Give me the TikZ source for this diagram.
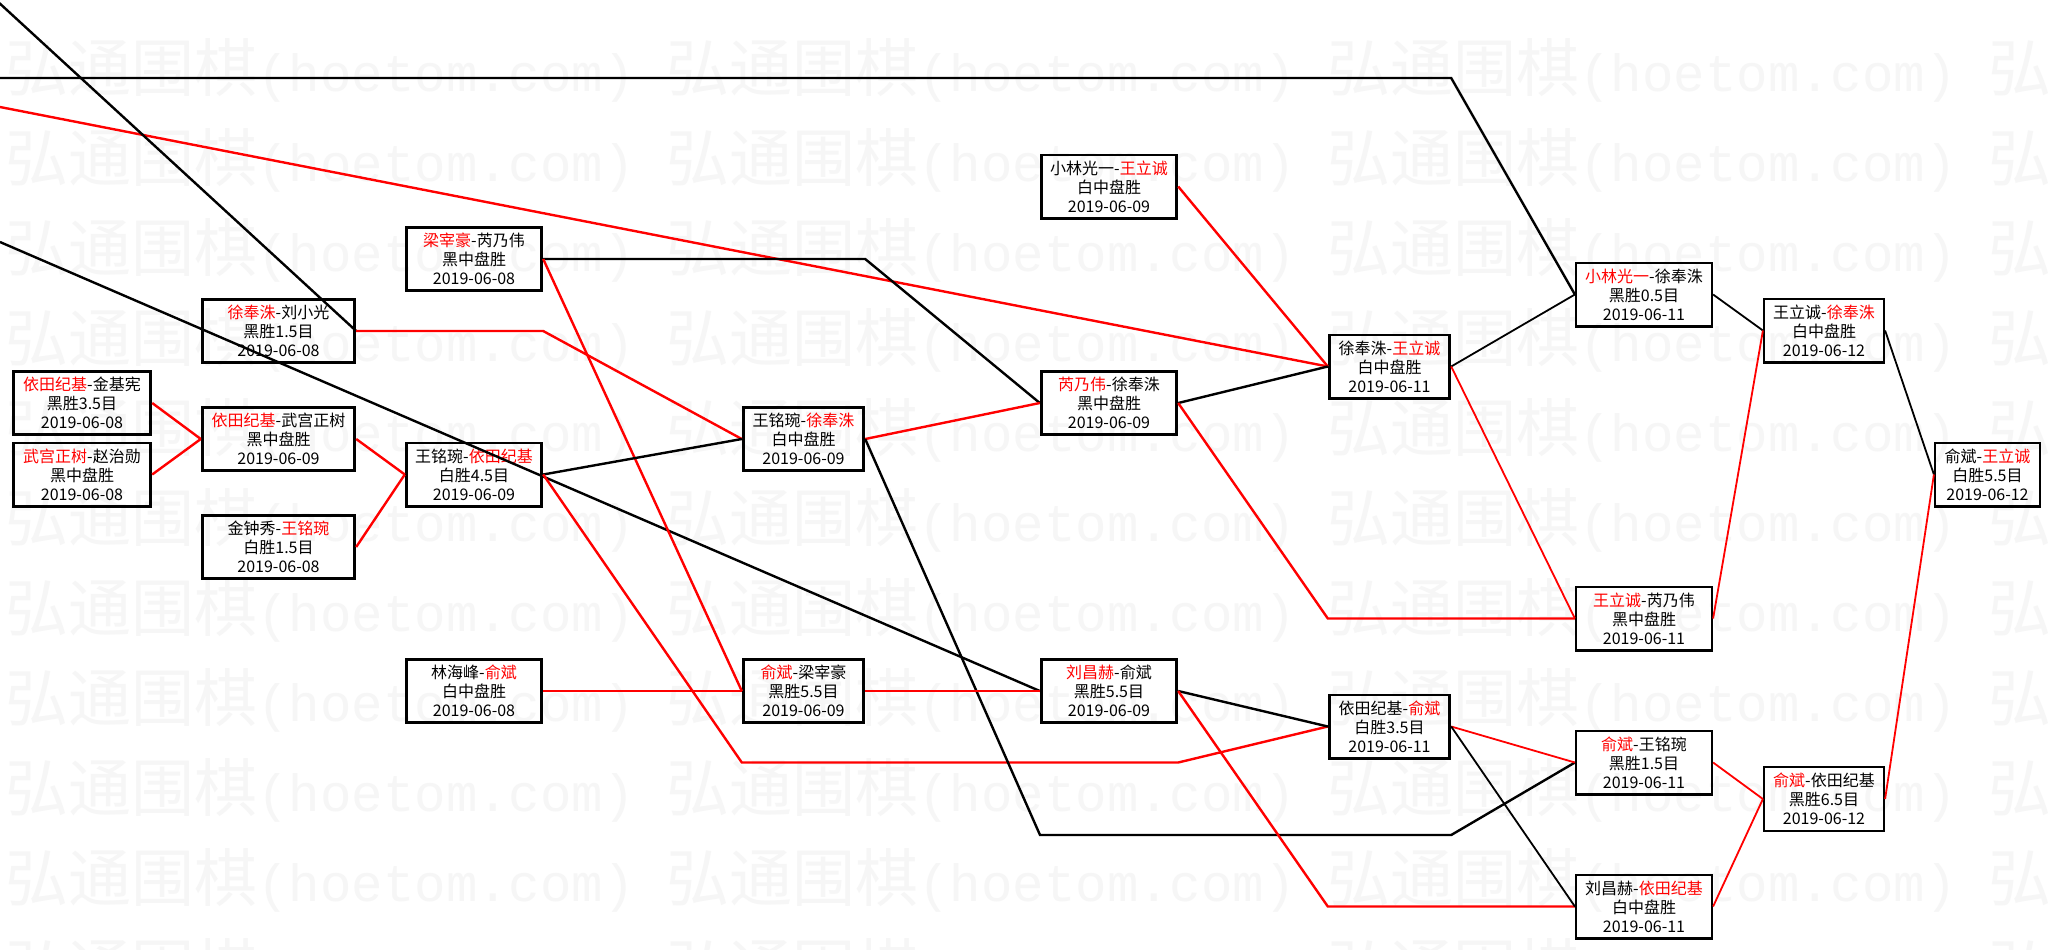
\documentclass[tikz,border=0pt]{standalone}
\usepackage{fontspec}
\setmainfont{Noto Sans CJK SC}
\newfontfamily\wmlat{Liberation Mono}
\usepackage{xcolor}
\definecolor{wred}{RGB}{255,0,0}
\newcommand{\win}[1]{\textcolor{wred}{#1}}
\newcommand{\wmunit}{\makebox[330.5pt][l]{\fontsize{31.5}{31.5}\selectfont 弘通围棋{\wmlat\fontsize{26.2}{26.2}\selectfont(hoetom.com)}}}
\newcommand{\wmrow}{\wmunit\wmunit\wmunit\wmunit}

\begin{document}
\begin{tikzpicture}[x=0.5pt, y=-0.5pt, every node/.style={font=\fontsize{8}{9.5}\selectfont}]
  % 样式
  \tikzstyle{game}=[rectangle, draw=black, line width=1.4pt, inner sep=0pt, minimum height=31.6pt, align=center]
  \tikzstyle{late}=[game, line width=1.1pt, minimum height=31.9pt]
  \tikzstyle{bk}=[draw=black, line width=1.2pt]
  \tikzstyle{rd}=[draw=wred, line width=1.2pt]
  \tikzstyle{bkt}=[draw=black, line width=0.9pt]
  \tikzstyle{rdt}=[draw=wred, line width=0.9pt]
  \tikzstyle{wm}=[anchor=base west, inner sep=0pt, text=black!3.5]

  \path[use as bounding box, fill=white] (0,0) rectangle (2052,949);

  % 水印
  \foreach \r in {0,...,10}
    \node[wm] (wm\r) at (5,91+90*\r) {\wmrow};

  % 对局
  \node (yitian_jin) [game, minimum width=68.8pt] at (82,403) {\win{依田纪基}-金基宪\\黑胜3.5目\\2019-06-08};
  \node (wugong_zhao) [game, minimum width=68.8pt] at (82,474.5) {\win{武宫正树}-赵治勋\\黑中盘胜\\2019-06-08};
  \node (xu_liu) [game, minimum width=76.3pt] at (278.5,331) {\win{徐奉洙}-刘小光\\黑胜1.5目\\2019-06-08};
  \node (yitian_wugong) [game, minimum width=76.3pt] at (278.5,439) {\win{依田纪基}-武宫正树\\黑中盘胜\\2019-06-09};
  \node (jin_wangm) [game, minimum width=76.3pt] at (278.5,547) {金钟秀-\win{王铭琬}\\白胜1.5目\\2019-06-08};
  \node (liang_rui) [game, minimum width=67.8pt] at (474,259) {\win{梁宰豪}-芮乃伟\\黑中盘胜\\2019-06-08};
  \node (wangm_yitian) [game, minimum width=67.8pt] at (474,474.5) {王铭琬-\win{依田纪基}\\白胜4.5目\\2019-06-09};
  \node (lin_yu) [game, minimum width=67.8pt] at (474,691) {林海峰-\win{俞斌}\\白中盘胜\\2019-06-08};
  \node (wangm_xu) [game, minimum width=60.3pt] at (803.5,439) {王铭琬-\win{徐奉洙}\\白中盘胜\\2019-06-09};
  \node (yu_liang) [game, minimum width=60.3pt] at (803.5,691) {\win{俞斌}-梁宰豪\\黑胜5.5目\\2019-06-09};
  \node (kobayashi_wangl) [game, minimum width=67.8pt] at (1109,186.5) {小林光一-\win{王立诚}\\白中盘胜\\2019-06-09};
  \node (rui_xu) [game, minimum width=67.8pt] at (1109,403) {\win{芮乃伟}-徐奉洙\\黑中盘胜\\2019-06-09};
  \node (liu_yu) [game, minimum width=67.8pt] at (1109,691) {\win{刘昌赫}-俞斌\\黑胜5.5目\\2019-06-09};
  \node (xu_wangl) [game, minimum width=60.3pt] at (1389.5,366.5) {徐奉洙-\win{王立诚}\\白中盘胜\\2019-06-11};
  \node (yitian_yu) [game, minimum width=60.3pt] at (1389.5,726.5) {依田纪基-\win{俞斌}\\白胜3.5目\\2019-06-11};
  \node (kobayashi_xu) [late, minimum width=68pt] at (1644,294.5) {\win{小林光一}-徐奉洙\\黑胜0.5目\\2019-06-11};
  \node (wangl_rui) [late, minimum width=68pt] at (1644,618.5) {\win{王立诚}-芮乃伟\\黑中盘胜\\2019-06-11};
  \node (yu_wangm) [late, minimum width=68pt] at (1644,762.5) {\win{俞斌}-王铭琬\\黑胜1.5目\\2019-06-11};
  \node (liu_yitian) [late, minimum width=68pt] at (1644,906.5) {刘昌赫-\win{依田纪基}\\白中盘胜\\2019-06-11};
  \node (wangl_xu) [late, minimum width=60pt] at (1824,330.5) {王立诚-\win{徐奉洙}\\白中盘胜\\2019-06-12};
  \node (yu_yitian) [late, minimum width=60pt] at (1824,799) {\win{俞斌}-依田纪基\\黑胜6.5目\\2019-06-12};
  \node (yu_wangl) [late, minimum width=52.5pt] at (1987.5,474.5) {俞斌-\win{王立诚}\\白胜5.5目\\2019-06-12};

  % 图外伸入的线
  \coordinate (top_in) at (0,78);
  \coordinate (red_in) at (0,107);
  \coordinate (mid_in) at (0,242);
  \coordinate (corner_in) at (-4,0);
  \coordinate (low_run) at (1040,835);

  \draw[bk] (top_in) -- (top_in -| xu_wangl.east) -- (kobayashi_xu.west);
  \draw[rd] (red_in) -- (xu_wangl.west);
  \draw[bk] (mid_in) -- (liu_yu.west);
  \draw[bk] (corner_in) -- (xu_liu.east);

  % 连线
  \draw[rd] (yitian_jin.east) -- (yitian_wugong.west);
  \draw[rd] (wugong_zhao.east) -- (yitian_wugong.west);
  \draw[rd] (yitian_wugong.east) -- (wangm_yitian.west);
  \draw[rd] (jin_wangm.east) -- (wangm_yitian.west);
  \draw[rd] (xu_liu.east) -- (xu_liu.east -| liang_rui.east) -- (wangm_xu.west);
  \draw[bk] (liang_rui.east) -- (liang_rui.east -| wangm_xu.east) -- (rui_xu.west);
  \draw[rd] (liang_rui.east) -- (yu_liang.west);
  \draw[bk] (wangm_yitian.east) -- (wangm_xu.west);
  \draw[rd] (wangm_yitian.east) -- (wangm_xu.west |- yu_wangm.west) -- (liu_yu.east |- yu_wangm.west) -- (yitian_yu.west);
  \draw[rd] (lin_yu.east) -- (yu_liang.west);
  \draw[rd] (wangm_xu.east) -- (rui_xu.west);
  \draw[bk] (wangm_xu.east) -- (low_run) -- (low_run -| yitian_yu.east) -- (yu_wangm.west);
  \draw[rd] (yu_liang.east) -- (liu_yu.west);
  \draw[rd] (kobayashi_wangl.east) -- (xu_wangl.west);
  \draw[bk] (rui_xu.east) -- (xu_wangl.west);
  \draw[rd] (rui_xu.east) -- (wangl_rui.west -| xu_wangl.west) -- (wangl_rui.west);
  \draw[bk] (liu_yu.east) -- (yitian_yu.west);
  \draw[rd] (liu_yu.east) -- (liu_yitian.west -| yitian_yu.west) -- (liu_yitian.west);
  \draw[bkt] (xu_wangl.east) -- (kobayashi_xu.west);
  \draw[rdt] (xu_wangl.east) -- (wangl_rui.west);
  \draw[rdt] (yitian_yu.east) -- (yu_wangm.west);
  \draw[bkt] (yitian_yu.east) -- (liu_yitian.west);
  \draw[bkt] (kobayashi_xu.east) -- (wangl_xu.west);
  \draw[rdt] (wangl_rui.east) -- (wangl_xu.west);
  \draw[rdt] (yu_wangm.east) -- (yu_yitian.west);
  \draw[rdt] (liu_yitian.east) -- (yu_yitian.west);
  \draw[bkt] (wangl_xu.east) -- (yu_wangl.west);
  \draw[rdt] (yu_yitian.east) -- (yu_wangl.west);
\end{tikzpicture}
\end{document}
